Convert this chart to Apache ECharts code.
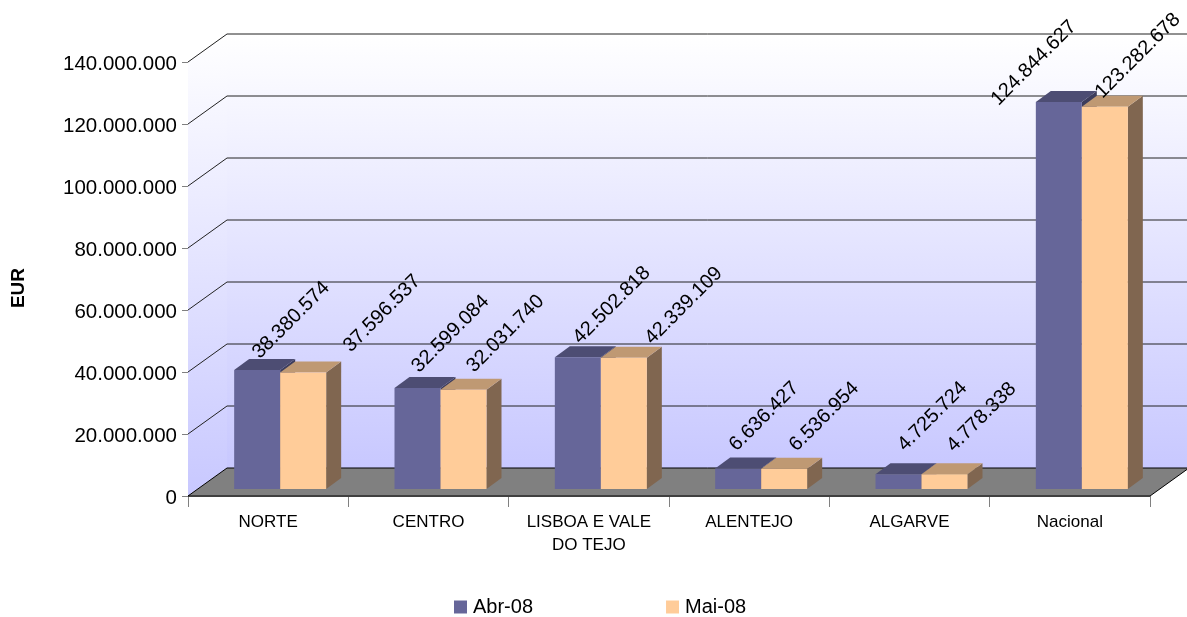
<!DOCTYPE html>
<html>
<head>
<meta charset="utf-8">
<style>html,body{margin:0;padding:0;background:#fff}#c{width:1187px;height:617px}</style>
<script src="https://cdn.jsdelivr.net/npm/echarts@6/dist/echarts.min.js"></script>
</head>
<body>
<div id="c"></div>
<script>
var categories = ['NORTE', 'CENTRO', 'LISBOA E VALE\nDO TEJO', 'ALENTEJO', 'ALGARVE', 'Nacional'];
var seriesNames = ['Abr-08', 'Mai-08'];
var abr08 = [38380574, 32599084, 42502818, 6636427, 4725724, 124844627];
var mai08 = [37596537, 32031740, 42339109, 6536954, 4778338, 123282678];
var yTicks = [0, 20000000, 40000000, 60000000, 80000000, 100000000, 120000000, 140000000];

// Layout only: hand placement of each rotated label relative to its bar top
var abrLabelNudge = [[34,-50],[33,-54],[34,-52],[26,-52],[34,-58],[-25,-39]];
var maiLabelNudge = [[79,-59],[42,-56],[60,-52],[40,-52],[37,-57],[33,-51]];

var WALL_DX = 39, WALL_DY = 28;      // depth of the 3D box
var BAR_DX = 15, BAR_DY = 11;        // depth of each bar
var BAR_W = 46, SHIFT_X = 12, SHIFT_Y = 7;
var FONT = '"Liberation Sans", Arial, sans-serif';

function dots(v) { return String(v).replace(/\B(?=(\d{3})+(?!\d))/g, '.'); }

function wallItem(params, api) {
  var cs = params.coordSys;
  var v = api.value(0);
  var p = api.coord([0, v]);
  var y = p[1], L = cs.x, R = cs.x + cs.width, B = cs.y + cs.height, T = cs.y;
  var kids = [];
  if (params.dataIndex === 0) {
    var grad = { type: 'linear', x: 0, y: 0, x2: 0, y2: 1, colorStops: [
      { offset: 0, color: '#ffffff' }, { offset: 1, color: '#c8c8ff' }] };
    kids.push({ type: 'polygon', z2: 1, shape: { points: [[L + WALL_DX, T - WALL_DY], [R + WALL_DX, T - WALL_DY], [R + WALL_DX, B - WALL_DY], [L + WALL_DX, B - WALL_DY]] }, style: { fill: grad } });
    kids.push({ type: 'polygon', z2: 1, shape: { points: [[L, T], [L + WALL_DX, T - WALL_DY], [L + WALL_DX, B - WALL_DY], [L, B]] }, style: { fill: grad } });
    kids.push({ type: 'polygon', z2: 3, shape: { points: [[L, B], [L + WALL_DX, B - WALL_DY], [R + WALL_DX, B - WALL_DY], [R, B]] }, style: { fill: '#808080', stroke: '#000', lineWidth: 1 } });
  } else {
    kids.push({ type: 'polyline', z2: 2, shape: { points: [[L, y], [L + WALL_DX, y - WALL_DY], [R + WALL_DX, y - WALL_DY]] }, style: { fill: null, stroke: '#222', lineWidth: 1 } });
  }
  return { type: 'group', children: kids };
}

function barItem(nudges, front, top, side, order) {
  return function (params, api) {
    var idx = api.value(0), val = api.value(1);
    var c = api.coord([idx, val]), b = api.coord([idx, 0]);
    var mid = c[0] + SHIFT_X;
    var x0 = order === 0 ? mid - BAR_W : mid, x1 = x0 + BAR_W;
    var yT = c[1] - SHIFT_Y, yB = b[1] - SHIFT_Y;
    var z = 10 + order * 5;
    var n = nudges[idx];
    return { type: 'group', children: [
      { type: 'polygon', z2: z, shape: { points: [[x1, yT], [x1 + BAR_DX, yT - BAR_DY], [x1 + BAR_DX, yB - BAR_DY], [x1, yB]] }, style: { fill: side } },
      { type: 'polygon', z2: z, shape: { points: [[x0, yT], [x0 + BAR_DX, yT - BAR_DY], [x1 + BAR_DX, yT - BAR_DY], [x1, yT]] }, style: { fill: top } },
      { type: 'rect', z2: z + 1, shape: { x: x0, y: yT, width: BAR_W, height: yB - yT }, style: { fill: front } },
      { type: 'text', z2: 100, x: (x0 + x1) / 2 + n[0], y: yT + n[1], rotation: Math.PI / 4,
        style: { text: dots(val), font: '20px ' + FONT, fill: '#000', align: 'center', verticalAlign: 'middle' } }
    ] };
  };
}

var chart = echarts.init(document.getElementById('c'), null, { renderer: 'canvas' });
chart.setOption({
  animation: false,
  backgroundColor: '#fff',
  textStyle: { fontFamily: FONT },
  grid: { left: 188, top: 62, width: 962, height: 434, containLabel: false, outerBoundsMode: 'none' },
  legend: {
    data: seriesNames, left: 454, top: 597, padding: 0, itemWidth: 13, itemHeight: 13, itemGap: 133, icon: 'rect',
    textStyle: { fontFamily: FONT, fontSize: 20, color: '#000', padding: [0, 0, 0, 1] }
  },
  xAxis: {
    type: 'category', data: categories, position: 'bottom',
    axisLine: { lineStyle: { color: '#808080', width: 1 } },
    axisTick: { show: true, alignWithLabel: false, length: 11, lineStyle: { color: '#808080' } },
    axisLabel: { fontFamily: FONT, fontSize: 17, color: '#000', margin: 15, lineHeight: 23, interval: 0 },
    splitLine: { show: false }
  },
  yAxis: {
    type: 'value', min: 0, max: 140000000, interval: 20000000,
    name: 'EUR', nameLocation: 'middle', nameGap: 160, nameRotate: 90,
    nameTextStyle: { fontFamily: FONT, fontSize: 19, fontWeight: 'bold', color: '#000', padding: [0, 18, 0, 0] },
    axisLine: { show: true, lineStyle: { color: '#808080', width: 1 } },
    axisTick: { show: true, length: 6, lineStyle: { color: '#808080' } },
    axisLabel: { fontFamily: FONT, fontSize: 20.5, color: '#000', margin: 11,
      formatter: function (v) { return '{n|' + dots(v) + '}'; },
      rich: { n: { fontFamily: FONT, fontSize: 20.5, color: '#000', padding: [5, 0, 0, 0] } } },
    splitLine: { show: false }
  },
  series: [
    { type: 'custom', name: 'wall', silent: true, renderItem: wallItem, z: 1, clip: false,
      encode: { y: 0 }, data: yTicks.map(function (t) { return [t]; }) },
    { type: 'custom', name: seriesNames[0], z: 2, clip: false, itemStyle: { color: '#666699' },
      renderItem: barItem(abrLabelNudge, '#666699', '#4d4d73', '#3d3d5c', 0),
      encode: { x: 0, y: 1 }, data: abr08.map(function (v, i) { return [i, v]; }) },
    { type: 'custom', name: seriesNames[1], z: 2, clip: false, itemStyle: { color: '#FFCC99' },
      renderItem: barItem(maiLabelNudge, '#FFCC99', '#BF9973', '#806650', 1),
      encode: { x: 0, y: 1 }, data: mai08.map(function (v, i) { return [i, v]; }) }
  ]
});
</script>
</body>
</html>
